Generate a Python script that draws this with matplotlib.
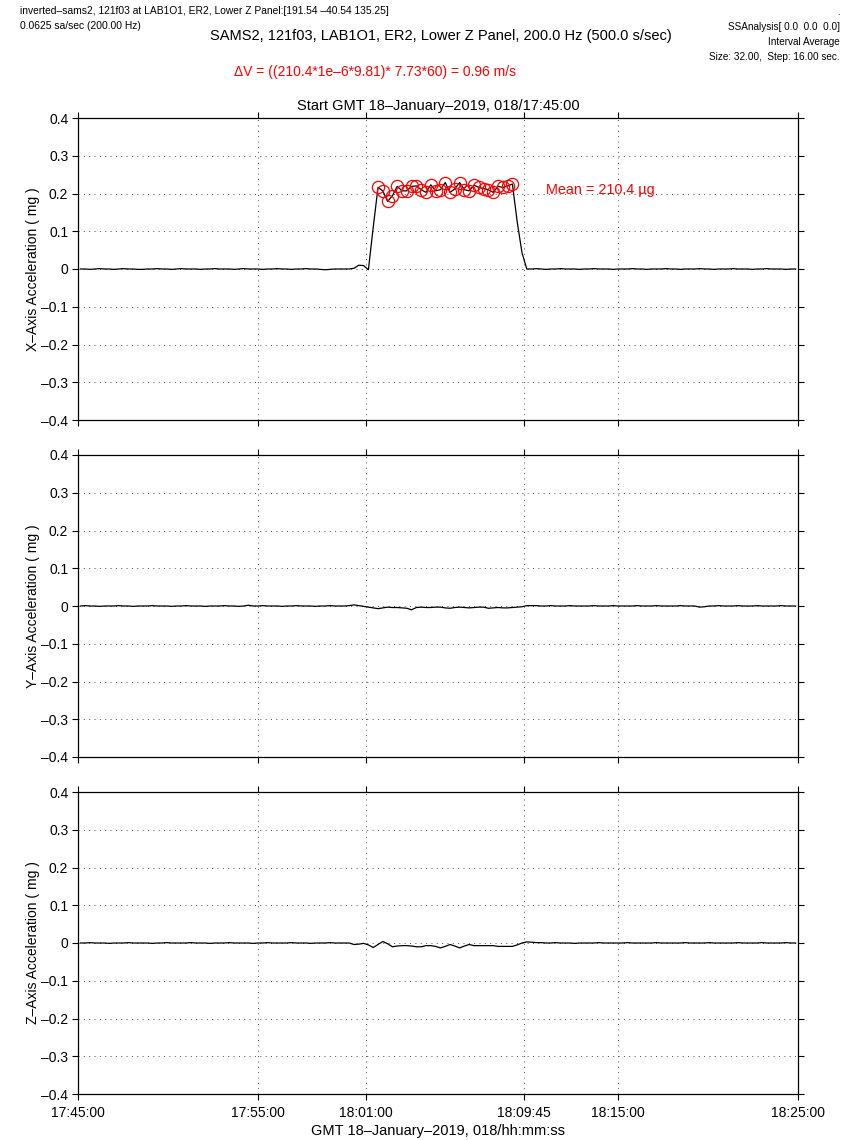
import numpy as np
import matplotlib
matplotlib.use("Agg")
import matplotlib.pyplot as plt
from matplotlib.ticker import FuncFormatter

plt.rcParams['font.family'] = ['Liberation Sans', 'DejaVu Sans']

# ---- data (interval averages, step 16 s, window centres from 17:45:00) ----
step_s = 16.0
first_center_s = 8.0

x_accel = [
    0.000, 0.000, -0.001, 0.000, 0.001, 0.000, 0.000, -0.001, 0.000, 0.001,
    0.000, 0.000, -0.001, -0.001, 0.000, 0.000, 0.001, 0.000, 0.000, -0.001,
    0.000, 0.001, 0.000, 0.000, 0.000, -0.001, 0.000, 0.000, 0.001, 0.000,
    0.000, 0.000, -0.001, 0.000, 0.001, 0.000, 0.000, 0.000, -0.001, 0.000,
    0.000, 0.001, 0.000, 0.000, -0.001, 0.000, 0.000, 0.001, 0.000, 0.000,
    -0.001, -0.002, -0.001, 0.000, 0.000, 0.000, 0.000, 0.002, 0.010, 0.009,
    -0.002, 0.110,
    0.216, 0.207, 0.179, 0.194, 0.219, 0.207, 0.207, 0.219, 0.220, 0.210,
    0.203, 0.223, 0.207, 0.210, 0.229, 0.203, 0.212, 0.229, 0.210, 0.207,
    0.222, 0.216, 0.213, 0.210, 0.203, 0.219, 0.216, 0.220, 0.225,
    0.125, 0.043, 0.000,
    0.000, 0.001, 0.000, -0.001, 0.000, 0.000, 0.001, 0.000, 0.000, 0.000,
    -0.001, 0.000, 0.000, 0.001, 0.000, 0.000, 0.000, -0.001, 0.000, 0.000,
    0.000, 0.001, 0.000, 0.000, -0.001, 0.000, 0.000, 0.000, 0.001, 0.000,
    0.000, -0.001, 0.000, 0.000, 0.000, 0.001, 0.000, 0.000, -0.001, 0.000,
    0.000, 0.000, 0.001, 0.000, 0.000, 0.000, -0.001, 0.000, 0.000, 0.001,
    0.000, 0.000, 0.000, -0.001, 0.000, 0.000,
]

y_accel = [
    0.000, 0.001, 0.000, 0.000, -0.001, 0.000, 0.000, 0.000, 0.001, 0.000,
    0.000, -0.001, 0.000, 0.000, 0.000, 0.001, 0.000, 0.000, 0.000, -0.001,
    0.000, 0.000, 0.001, 0.000, 0.000, 0.000, -0.001, 0.000, 0.000, 0.000,
    0.001, 0.000, 0.000, -0.001, 0.000, 0.002, 0.000, 0.000, 0.001, 0.000,
    0.000, 0.000, -0.001, 0.000, 0.000, 0.001, 0.000, 0.000, 0.000, -0.001,
    0.000, 0.000, 0.001, 0.000, 0.000, 0.000, 0.001, 0.003, 0.001, -0.001,
    -0.003, -0.005, -0.007, -0.005, -0.003, -0.004, -0.004, -0.005, -0.006, -0.010,
    -0.004, -0.003, -0.004, -0.004, -0.003, -0.003, -0.005, -0.006, -0.004, -0.003,
    -0.004, -0.005, -0.004, -0.003, -0.003, -0.006, -0.005, -0.004, -0.005, -0.005,
    -0.004, -0.003, -0.002, 0.001, 0.001, 0.001, 0.000, 0.000, 0.001, 0.000,
    0.000, 0.000, 0.001, 0.000, 0.000, 0.000, 0.000, 0.001, 0.000, 0.000,
    0.000, 0.001, 0.000, 0.000, 0.000, 0.000, 0.001, 0.000, 0.000, 0.000,
    0.001, 0.000, 0.000, 0.000, 0.000, 0.001, 0.000, 0.000, 0.000, -0.003,
    -0.002, 0.000, 0.000, 0.001, 0.000, 0.000, 0.000, 0.001, 0.000, 0.000,
    0.000, 0.001, 0.000, 0.000, 0.000, 0.000, 0.001, 0.000, 0.000, 0.000,
]

z_accel = [
    0.000, 0.000, 0.001, 0.000, 0.000, 0.000, -0.001, 0.000, 0.000, 0.000,
    0.001, 0.000, 0.000, 0.000, 0.000, -0.001, 0.000, 0.000, 0.001, 0.000,
    0.000, 0.000, 0.000, 0.001, 0.000, 0.000, 0.000, -0.001, 0.000, 0.000,
    0.000, 0.001, 0.000, 0.000, 0.000, 0.000, -0.001, 0.000, 0.000, 0.001,
    0.000, 0.000, 0.000, 0.000, 0.001, 0.000, 0.000, 0.000, -0.001, 0.000,
    0.000, 0.000, 0.001, 0.000, 0.000, 0.000, 0.000, -0.004, -0.003, -0.001,
    -0.005, -0.012, -0.004, 0.004, -0.002, -0.010, -0.008, -0.007, -0.007, -0.008,
    -0.010, -0.010, -0.007, -0.007, -0.009, -0.013, -0.009, -0.004, -0.008, -0.013,
    -0.008, -0.004, -0.007, -0.007, -0.007, -0.007, -0.007, -0.009, -0.009, -0.009,
    -0.009, -0.005, 0.000, 0.003, 0.002, 0.001, 0.001, 0.000, 0.000, 0.001,
    0.000, 0.000, 0.000, -0.001, 0.000, 0.000, 0.000, 0.000, 0.001, 0.000,
    0.000, 0.000, 0.000, 0.000, 0.001, 0.000, 0.000, 0.000, 0.000, 0.000,
    0.001, 0.000, 0.000, 0.000, 0.000, 0.000, 0.001, 0.000, 0.000, 0.000,
    0.000, 0.001, 0.000, 0.000, 0.000, 0.000, 0.000, 0.001, 0.000, 0.000,
    0.000, 0.000, 0.001, 0.000, 0.000, 0.000, 0.000, 0.001, 0.000, 0.000,
]

mean_first_idx = 62
mean_last_idx = 90
mean_value_ug = 210.4

tick_seconds = [0, 600, 960, 1485, 1800, 2400]
tick_labels = ['17:45:00', '17:55:00', '18:01:00', '18:09:45', '18:15:00', '18:25:00']
y_ticks = [-0.4, -0.3, -0.2, -0.1, 0.0, 0.1, 0.2, 0.3, 0.4]
panel_labels = ['X\u2013Axis Acceleration ( mg )',
                'Y\u2013Axis Acceleration ( mg )',
                'Z\u2013Axis Acceleration ( mg )']

# ---- figure ----
W, H = 851, 1140
fig = plt.figure(figsize=(W / 100, H / 100), dpi=100)

def fx(px):
    return px / W

def fy(py):
    return 1 - py / H

left, right = 78, 798
panels_px = [(118, 420), (455, 757), (792, 1094)]

def yfmt(v, pos):
    if abs(v) < 1e-9:
        return '0'
    s = f'{v:.1f}'
    return s.replace('-', '\u2013')

series = [x_accel, y_accel, z_accel]
t = [first_center_s + step_s * i for i in range(len(x_accel))]

axes = []
for i, (top, bot) in enumerate(panels_px):
    ax = fig.add_axes([fx(left), fy(bot), fx(right - left), (bot - top) / H])
    axes.append(ax)
    ax.plot(t[:len(series[i])], series[i], color='black', lw=0.9, zorder=3)
    ax.set_xlim(0, 2400)
    ax.set_ylim(-0.4, 0.4)
    ax.set_yticks(y_ticks)
    ax.yaxis.set_major_formatter(FuncFormatter(yfmt))
    ax.set_xticks(tick_seconds)
    if i == 2:
        ax.set_xticklabels(tick_labels)
    else:
        ax.set_xticklabels([])
    ax.tick_params(direction='out', length=4.5, width=0.8, top=True, right=True,
                   labelsize=10, pad=2.5, colors='black')
    ax.tick_params(axis='x', pad=4)
    ax.grid(True, linestyle=(0, (1, 4.5)), color='0.3', linewidth=0.7)
    for sp in ax.spines.values():
        sp.set_linewidth(0.9)
    ax.set_ylabel(panel_labels[i], fontsize=10, labelpad=1)

# mean markers
ax0 = axes[0]
ax0.plot(t[mean_first_idx:mean_last_idx + 1], x_accel[mean_first_idx:mean_last_idx + 1],
         linestyle='none', marker='o', markersize=8.8, markerfacecolor='none',
         markeredgecolor='red', markeredgewidth=0.9, zorder=4)
ax0.text(1560, 0.21, f'Mean = {mean_value_ug:.1f} \u00b5g', color='red',
         fontsize=10.4, va='center', ha='left')
ax0.set_title('Start GMT 18\u2013January\u20132019, 018/17:45:00', fontsize=10.5, pad=6)

axes[2].set_xlabel('GMT 18\u2013January\u20132019, 018/hh:mm:ss', fontsize=10.5, labelpad=3)

# header texts
fig.text(fx(20), fy(11), 'inverted\u2013sams2, 121f03 at LAB1O1, ER2, Lower Z Panel:[191.54 \u201340.54 135.25]',
         fontsize=7.4, va='center', ha='left')
fig.text(fx(20), fy(26), '0.0625 sa/sec (200.00 Hz)', fontsize=7.4, va='center', ha='left')
fig.text(fx(441), fy(36), 'SAMS2, 121f03, LAB1O1, ER2, Lower Z Panel, 200.0 Hz (500.0 s/sec)',
         fontsize=10.5, va='center', ha='center')
fig.text(fx(375), fy(72), '\u0394V = ((210.4*1e\u20136*9.81)* 7.73*60) = 0.96 m/s',
         fontsize=10.0, va='center', ha='center', color='red')
fig.text(fx(840), fy(12), '.', fontsize=7.2, va='center', ha='right')
fig.text(fx(840), fy(27), 'SSAnalysis[ 0.0  0.0  0.0]', fontsize=7.2, va='center', ha='right')
fig.text(fx(840), fy(42), 'Interval Average', fontsize=7.2, va='center', ha='right')
fig.text(fx(840), fy(57), 'Size: 32.00,  Step: 16.00 sec.', fontsize=7.2, va='center', ha='right')

fig.savefig('out.png', dpi=100)
